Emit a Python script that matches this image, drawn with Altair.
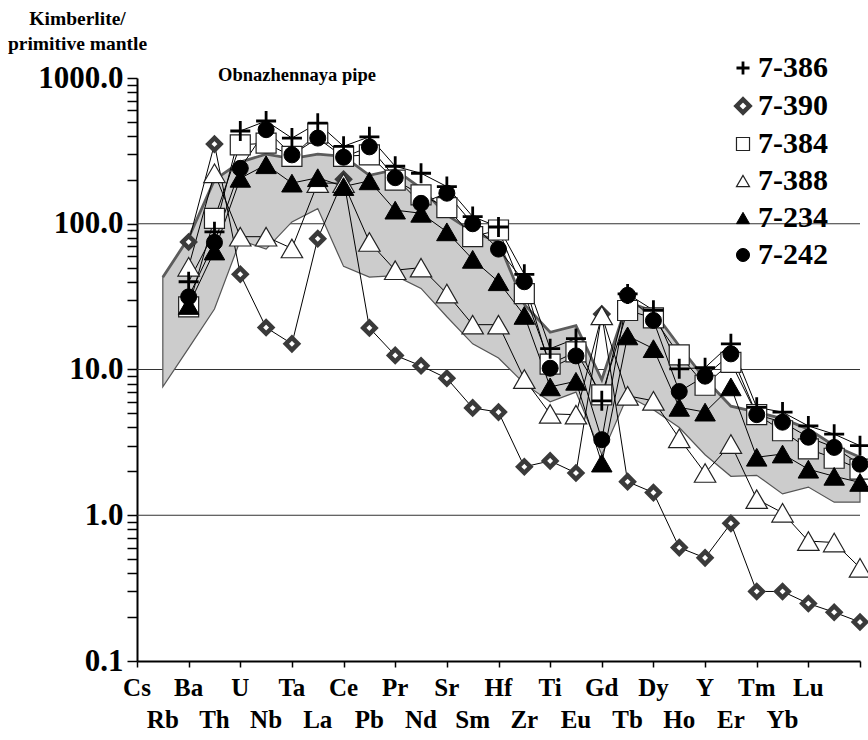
import altair as alt
import pandas as pd

# Element labels along the x axis (tick positions 0..26)
elements = ["Cs", "Rb", "Ba", "Th", "U", "Nb", "Ta", "La", "Ce", "Pb", "Pr", "Nd", "Sr",
            "Sm", "Hf", "Zr", "Ti", "Eu", "Gd", "Tb", "Dy", "Ho", "Y", "Er", "Tm", "Yb", "Lu"]

# Plotting positions of the analysed values (1..28)
positions = list(range(1, 29))

# Kimberlite / primitive mantle ratios for each sample (None = not analysed)
s_7_386 = [None, 40, 88, 433, 507, 387, 490, 340, 395, 248, 222, 180, 112, 95, 45, 13.9,
           16.3, 6.1, 33, 25.5, 10.1, 10.3, 15, 5.5, 5.1, 4.1, 3.6, 3.0]
s_7_390 = [None, 75, 352, 45, 19.4, 15, 79, 202, 19.3, 12.5, 10.6, 8.7, 5.45, 5.1, 2.15,
           2.36, 1.95, 24, 1.7, 1.43, 0.6, 0.51, 0.88, 0.3, 0.3, 0.248, 0.216, 0.185]
s_7_384 = [None, 26.9, 109, 348, 357, 290, 419, 290, 297, 199, 158, 129, 81.5, 90.6, 33.2,
           10.9, 13.2, 6.7, 25.4, 22.6, 12.6, 7.8, 11.2, 4.9, 3.8, 2.85, 2.46, 2.07]
s_7_388 = [None, 50.7, 222, 81.5, 81.5, 67.7, 190, 190, 75, 48, 50, 33.2, 20.3, 20.3, 8.6,
           4.96, 4.9, 23.5, 6.6, 6.1, 3.37, 1.95, 3.08, 1.29, 1.04, 0.665, 0.65, 0.436]
s_7_234 = [None, 27.5, 65, 205, 254, 190, 207, 180, 197, 124, 118, 88, 57, 40, 23.5, 7.6,
           8.3, 2.28, 17, 13.9, 5.5, 5.1, 7.6, 2.5, 2.63, 2.07, 1.85, 1.68]
s_7_242 = [None, 31.5, 74.5, 240, 442, 297, 387, 286, 337, 207, 138, 162, 100, 67, 40, 10.2,
           12.4, 3.3, 32.3, 21.7, 7.06, 9.0, 12.8, 4.9, 4.35, 3.43, 2.92, 2.24]

# Range of other kimberlites (shaded field)
field_hi = [43, 80, 200, 265, 300, 280, 300, 290, 215, 235, 175, 115, 88, 75, 28, 18,
            20, 8.5, 29, 25, 14.5, 8.6, 5.6, 5.1, 4.6, 3.9, 3.0, 2.5]
field_lo = [7.6, 14, 26, 77, 67, 103, 127, 51, 43, 44, 36, 23, 15, 12, 8, 6,
            7, 2.6, 6.6, 5.3, 4.0, 2.6, 1.85, 1.88, 1.4, 1.56, 1.23, 1.23]

# Reference lines
grid_values = [1, 10, 100]

sample_order = ["7-386", "7-390", "7-384", "7-388", "7-234", "7-242"]
series = {"7-386": s_7_386, "7-390": s_7_390, "7-384": s_7_384,
          "7-388": s_7_388, "7-234": s_7_234, "7-242": s_7_242}
marker_size = {"7-386": 400, "7-390": 150, "7-384": 400,
               "7-388": 460, "7-234": 420, "7-242": 256}
draw_order = ["7-390", "7-384", "7-388", "7-386", "7-234", "7-242"]

rows = []
for rank, name in enumerate(draw_order):
    for p, v in zip(positions, series[name]):
        if v is not None:
            rows.append({"pos": p, "value": v, "sample": name, "rank": rank,
                         "msize": marker_size[name]})
samples = pd.DataFrame(rows)
field = pd.DataFrame({"pos": positions, "lo": field_lo, "hi": field_hi})
grid = pd.DataFrame({"value": grid_values})
ticks = pd.DataFrame({"pos": list(range(len(elements))), "name": elements})

SERIF = "Liberation Serif"
W, H = 723, 583

x_scale = alt.Scale(domain=[0, 28], nice=False, zero=False)
y_scale = alt.Scale(type="log", domain=[0.1, 1000], nice=False)

x_axis = alt.Axis(
    values=list(range(0, 29)), title=None, grid=False, labels=False,
    tickSize=6, tickWidth=1.5, tickColor="black", domainWidth=2, domainColor="black")

y_ticks = []
for d in [0.1, 1, 10, 100]:
    for m in range(1, 10):
        y_ticks.append(round(d * m, 6))
y_ticks.append(1000)

y_axis = alt.Axis(
    values=y_ticks, grid=False,
    labelExpr=("abs(log(datum.value)/LN10 - round(log(datum.value)/LN10)) < 0.000001"
               " ? format(datum.value, '.1f') : ''"),
    labelFont=SERIF, labelFontWeight="bold", labelFontSize=31, labelColor="black",
    labelPadding=4, labelOverlap=False, labelFlush=False,
    tickSize=10, tickWidth=1.5, tickColor="black", domainWidth=2, domainColor="black",
    title=["Kimberlite/", "primitive mantle"], titleAngle=0, titleAlign="center",
    titleBaseline="top", titleX=-60, titleY=-69, titleFont=SERIF, titleFontWeight="bold",
    titleFontSize=19.5, titleLineHeight=25, titleColor="black")

rules = alt.Chart(grid).mark_rule(color="#333333", strokeWidth=1).encode(
    y=alt.Y("value:Q", scale=y_scale, axis=y_axis))

band = alt.Chart(field).mark_area(
    fill="#cccccc", stroke="#555555", strokeWidth=1.2, opacity=1).encode(
    x=alt.X("pos:Q", scale=x_scale, axis=x_axis),
    y=alt.Y("hi:Q", scale=y_scale),
    y2="lo:Q")

band_top = alt.Chart(field).mark_line(color="#5c5c5c", strokeWidth=2.8).encode(
    x=alt.X("pos:Q", scale=x_scale), y=alt.Y("hi:Q", scale=y_scale))

lines = alt.Chart(samples).mark_line(color="black", strokeWidth=1).encode(
    x=alt.X("pos:Q", scale=x_scale),
    y=alt.Y("value:Q", scale=y_scale),
    detail="sample:N", order="pos:Q")

cross = "M-1,0H1M0,-1V1"
legend = alt.Legend(
    title=None, orient="none", legendX=591, legendY=-25, padding=0,
    labelFont=SERIF, labelFontWeight="bold", labelFontSize=30, labelColor="black",
    labelOffset=0, symbolSize=170, rowPadding=7, symbolOpacity=1)

points = alt.Chart(samples).mark_point(filled=False, opacity=1).encode(
    x=alt.X("pos:Q", scale=x_scale),
    y=alt.Y("value:Q", scale=y_scale),
    shape=alt.Shape("sample:N", scale=alt.Scale(
        domain=sample_order,
        range=[cross, "diamond", "square", "triangle-up", "triangle-up", "circle"]),
        legend=legend),
    fill=alt.Fill("sample:N", scale=alt.Scale(
        domain=sample_order,
        range=["transparent", "white", "white", "white", "black", "black"]),
        legend=legend),
    stroke=alt.Stroke("sample:N", scale=alt.Scale(
        domain=sample_order,
        range=["black", "#3a3a3a", "#222222", "#222222", "black", "black"]),
        legend=legend),
    strokeWidth=alt.StrokeWidth("sample:N", scale=alt.Scale(
        type="ordinal", domain=sample_order, range=[2.8, 4.5, 1.2, 1.2, 1, 1]),
        legend=legend),
    size=alt.Size("msize:Q", scale=None),
    order=alt.Order("rank:Q"))

# Element names under the axis, alternating between two rows
label_base = alt.Chart(ticks).mark_text(
    font=SERIF, fontWeight="bold", fontSize=25, color="black",
    align="center", baseline="middle")
labels_top = label_base.transform_filter("datum.pos % 2 == 0").encode(
    x=alt.X("pos:Q", scale=x_scale), y=alt.value(H + 27), text="name:N")
labels_bottom = label_base.transform_filter("datum.pos % 2 == 1").encode(
    x=alt.X("pos:Q", scale=x_scale), y=alt.value(H + 59), text="name:N")

caption = alt.Chart(grid).transform_filter("datum.value == 1").mark_text(
    text="Obnazhennaya pipe", font=SERIF, fontWeight="bold", fontSize=18.5,
    color="black", align="center", baseline="middle").encode(
    x=alt.value(160), y=alt.value(-3))

chart = alt.layer(rules, band, band_top, lines, points, labels_top, labels_bottom,
                  caption).properties(
    width=W, height=H,
    autosize=alt.AutoSizeParams(type="none"),
    padding={"left": 137, "top": 78, "right": 8, "bottom": 79},
    background="white",
).configure_view(stroke=None)

chart.save("out.html", embed_options={"renderer": "svg", "actions": False})
